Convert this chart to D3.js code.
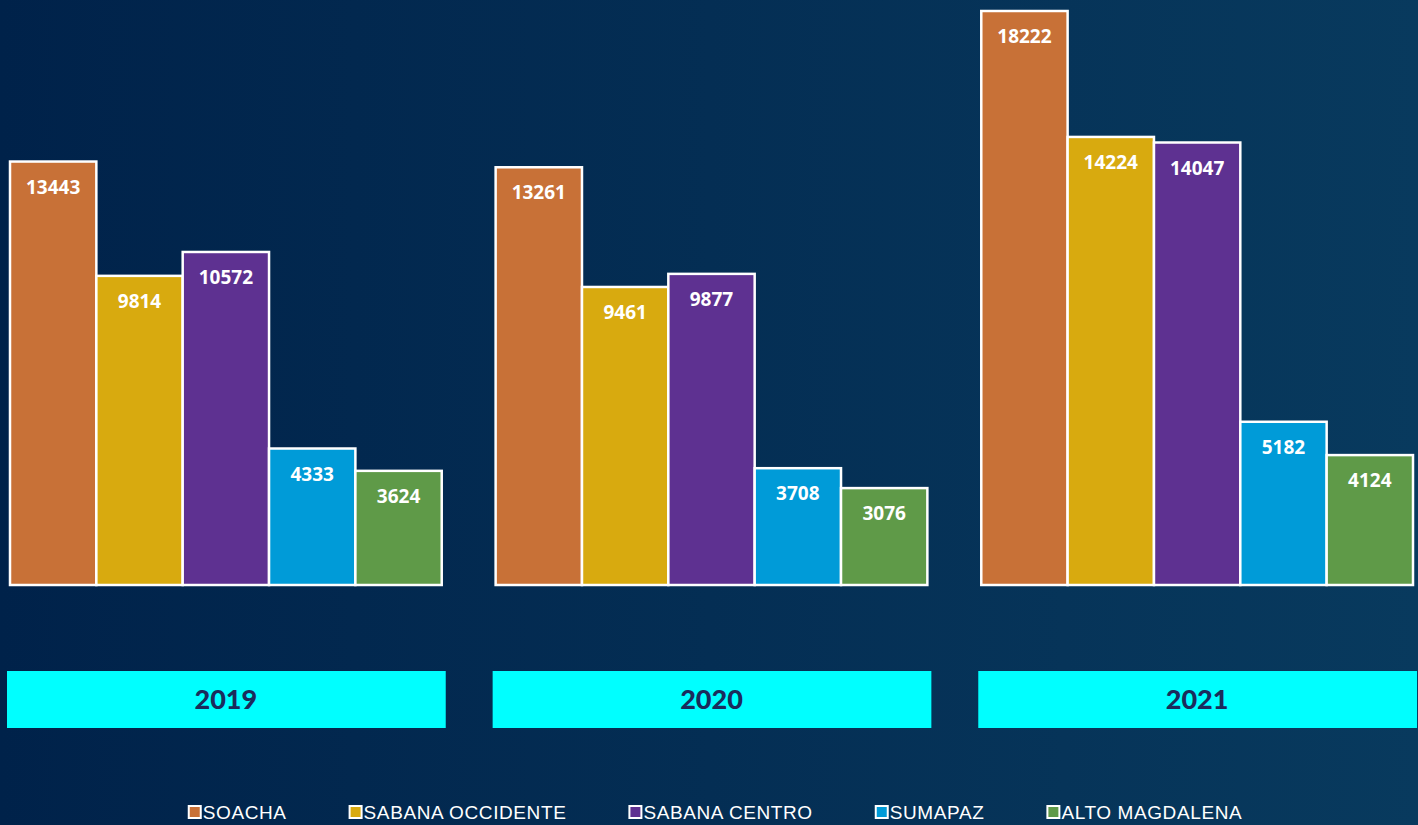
<!DOCTYPE html>
<html lang="es">
  <head>
    <meta charset="utf-8">
    <title>Provincias por año</title>
    <style>
      html, body { margin: 0; padding: 0; overflow: hidden; }
      svg { display: block; }
    </style>
    <script src="https://d3js.org/d3.v7.min.js"></script>
  </head>
  <body>
    <script>
    // data
    const years = ["2019", "2020", "2021"];
    const provinces = ["SOACHA", "SABANA OCCIDENTE", "SABANA CENTRO", "SUMAPAZ", "ALTO MAGDALENA"];
    const soacha = [13443, 13261, 18222];
    const sabanaOccidente = [9814, 9461, 14224];
    const sabanaCentro = [10572, 9877, 14047];
    const sumapaz = [4333, 3708, 5182];
    const altoMagdalena = [3624, 3076, 4124];
    const colors = ["#c87137", "#d8aa0f", "#5e3191", "#009bd8", "#5f9a48"];

    const seriesValues = [soacha, sabanaOccidente, sabanaCentro, sumapaz, altoMagdalena];
    const rows = [];
    years.forEach((yr, i) => {
      provinces.forEach((p, j) => rows.push({ year: yr, province: p, value: seriesValues[j][i] }));
    });

    const width = 1418, height = 825;

    const svg = d3.select("body").append("svg")
      .attr("width", width)
      .attr("height", height);

    const grad = svg.append("defs").append("linearGradient")
      .attr("id", "bg")
      .attr("x1", "0%").attr("y1", "0%")
      .attr("x2", "100%").attr("y2", "0%");
    grad.append("stop").attr("offset", "0%").attr("stop-color", "#00224a");
    grad.append("stop").attr("offset", "100%").attr("stop-color", "#083a5e");

    svg.append("rect")
      .attr("width", width).attr("height", height)
      .attr("fill", "url(#bg)");

    const x0 = d3.scaleBand()
      .domain(years)
      .range([10, 1413])
      .paddingInner(0.111);

    const x1 = d3.scaleBand()
      .domain(provinces)
      .range([0, x0.bandwidth()]);

    const y = d3.scaleLinear()
      .domain([0, 18571])
      .range([585, 0]);

    const color = d3.scaleOrdinal().domain(provinces).range(colors);

    const groups = svg.selectAll("g.year")
      .data(years)
      .join("g")
      .attr("class", "year")
      .attr("transform", d => `translate(${x0(d)},0)`);

    groups.selectAll("rect.bar")
      .data(yr => rows.filter(r => r.year === yr))
      .join("rect")
      .attr("class", "bar")
      .attr("x", d => x1(d.province))
      .attr("y", d => y(d.value))
      .attr("width", x1.bandwidth())
      .attr("height", d => y(0) - y(d.value))
      .attr("fill", d => color(d.province))
      .attr("stroke", "#ffffff")
      .attr("stroke-width", 2.5);

    groups.selectAll("text.val")
      .data(yr => rows.filter(r => r.year === yr))
      .join("text")
      .attr("class", "val")
      .attr("x", d => x1(d.province) + x1.bandwidth() / 2)
      .attr("y", d => y(d.value) + 32)
      .attr("text-anchor", "middle")
      .style("font-family", "'Open Sans', 'Liberation Sans', sans-serif")
      .style("font-weight", "bold")
      .style("font-size", "19px")
      .style("fill", "#ffffff")
      .text(d => d.value);

    // year boxes
    groups.append("rect")
      .attr("x", -3)
      .attr("y", 671)
      .attr("width", x0.bandwidth() + 7)
      .attr("height", 57)
      .attr("fill", "#00ffff");

    groups.append("text")
      .attr("x", x0.bandwidth() / 2)
      .attr("y", 709)
      .attr("text-anchor", "middle")
      .style("font-family", "Lato, 'Open Sans', sans-serif")
      .style("font-weight", "900")
      .style("font-size", "27px")
      .style("fill", "#1b2c5c")
      .text(d => d);

    // legend
    const legend = svg.append("g");
    const items = legend.selectAll("g")
      .data(provinces)
      .join("g");
    items.append("rect")
      .attr("x", 1).attr("y", -13)
      .attr("width", 12).attr("height", 12)
      .attr("fill", d => color(d))
      .attr("stroke", "#ffffff")
      .attr("stroke-width", 2);
    items.append("text")
      .attr("x", 15)
      .attr("y", 0)
      .style("font-family", "'Liberation Sans', sans-serif")
      .style("font-size", "19px")
      .style("letter-spacing", "0.6px")
      .style("fill", "#ffffff")
      .text(d => d);

    let cx = 0;
    items.each(function() {
      const w = 15 + d3.select(this).select("text").node().getComputedTextLength();
      d3.select(this).attr("transform", `translate(${cx},0)`);
      cx += w + 62;
    });
    const total = cx - 62;
    legend.attr("transform", `translate(${715 - total / 2},819)`);
    </script>
  </body>
</html>
